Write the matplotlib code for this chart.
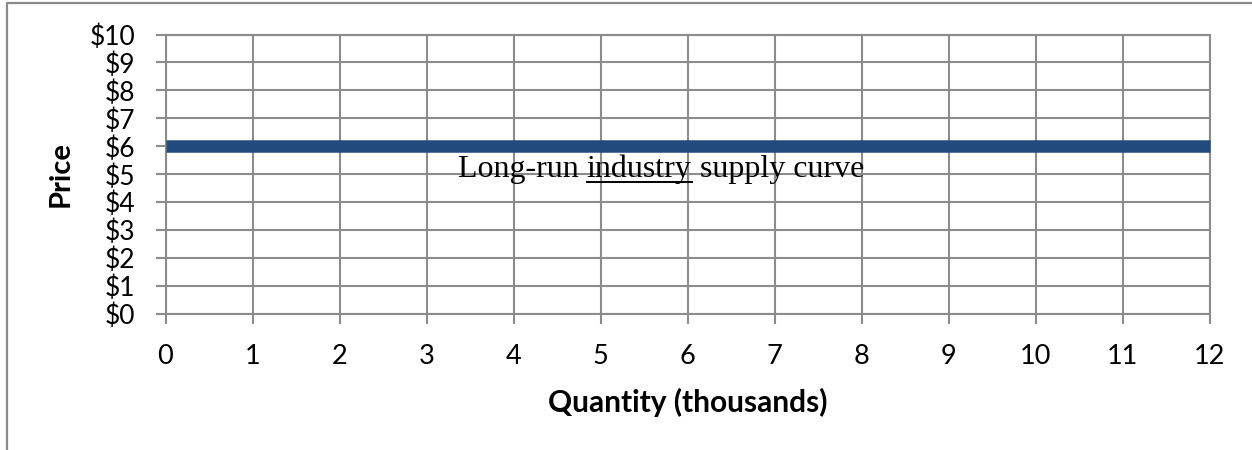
import matplotlib
matplotlib.use("Agg")
import matplotlib.pyplot as plt
from matplotlib.lines import Line2D

# Long-run industry supply: perfectly elastic at $6
quantity = [0, 12]
price = [6, 6]
x_ticks = list(range(0, 13))
y_ticks = list(range(0, 11))
y_tick_labels = [f"${v}" for v in y_ticks]
curve_label = ["Long-run ", "industry", " supply curve"]

W, H = 1252, 450
fig = plt.figure(figsize=(W / 100, H / 100), dpi=100)
ax = fig.add_axes([165.5 / W, 1 - 314 / H, (1209.5 - 165.5) / W, (314 - 34.5) / H])

grid_c = "#8c8c8c"
ax.set_xlim(0, 12)
ax.set_ylim(0, 10)
ax.set_xticks(x_ticks)
ax.set_yticks(y_ticks)
ax.set_yticklabels(y_tick_labels)
ax.grid(True, color=grid_c, linewidth=1.5)
ax.set_axisbelow(True)
for s in ax.spines.values():
    s.set_color(grid_c)
    s.set_linewidth(1.5)
ax.tick_params(axis="both", color=grid_c, width=1.5, length=7.5)
ax.tick_params(axis="y", pad=14, labelsize=19)
ax.tick_params(axis="x", pad=14, labelsize=19.5)
for lab in ax.get_xticklabels() + ax.get_yticklabels():
    lab.set_fontfamily("Lato")

ax.plot(quantity, price, color="#224a7c", linewidth=9, solid_capstyle="butt",
        clip_on=False, zorder=3)

# Axis titles
fig.text(688 / W, 1 - 402 / H, "Quantity (thousands)", fontsize=21.5,
         fontweight="bold", family="Lato", ha="center", va="center")
fig.text(61 / W, 1 - 174 / H, "Price", fontsize=21, fontweight="bold",
         family="Lato", rotation=90, ha="center", va="center")

# Curve label with "industry" underlined
fig.canvas.draw()
renderer = fig.canvas.get_renderer()
x0_px, base_px = 458, H - 177
pieces = []
cur = x0_px
for part in curve_label:
    t = fig.text(cur / W, base_px / H, part, fontsize=23, family="Liberation Serif",
                 va="baseline", ha="left")
    bb = t.get_window_extent(renderer)
    pieces.append((t, bb))
    cur = bb.x1
ul = pieces[1][1]
fig.add_artist(Line2D([ul.x0 / W, ul.x1 / W], [(H - 181.5) / H] * 2,
                      color="black", linewidth=1.4, transform=fig.transFigure))

# Frame around the chart object
fig.add_artist(Line2D([7 / W, 7 / W, 1.0], [0, (H - 3) / H, (H - 3) / H],
                      color="#8a8a8a", linewidth=1.6, transform=fig.transFigure))

fig.savefig("out.png", dpi=100)
